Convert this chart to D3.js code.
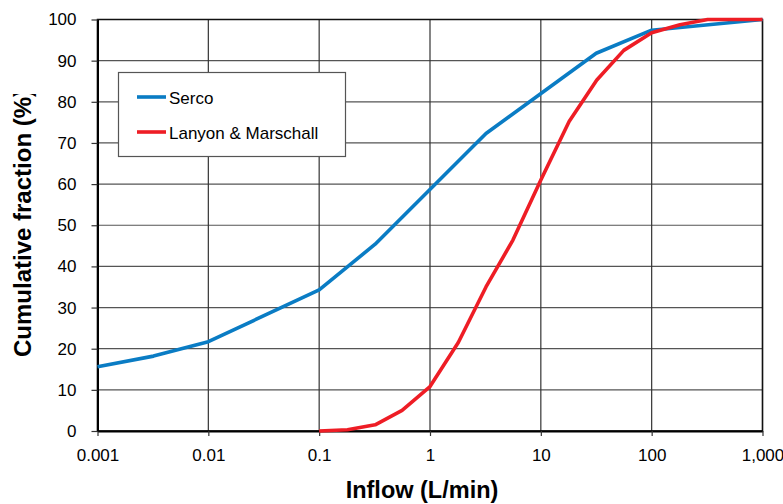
<!DOCTYPE html>
<html>
<head>
<meta charset="utf-8">
<script src="https://cdn.jsdelivr.net/npm/d3@7"></script>
<style>
  body { margin: 0; background: #fff; }
  svg { display: block; font-family: "Liberation Sans", Arial, sans-serif; }
</style>
</head>
<body>
<svg id="chart" width="783" height="504"></svg>
<script>
// Serco inflow distribution (flow L/min, cumulative %)
var sercoFlow = [0.001, 0.0032, 0.01, 0.1, 0.32, 3.2, 31.6, 100, 1000];
var sercoCum  = [15.6, 18.2, 21.7, 34.3, 45.4, 72.3, 91.8, 97.4, 100];

// Lanyon & Marschall inflow distribution
var lanyonFlow = [0.1, 0.18, 0.32, 0.56, 1, 1.8, 3.2, 5.6, 10, 18, 32, 56, 100, 180, 320, 1000];
var lanyonCum  = [0, 0.3, 1.5, 5, 10.8, 21.5, 35, 46.4, 61, 75.2, 85.3, 92.5, 96.8, 98.7, 100, 100];

var xTicks = [0.001, 0.01, 0.1, 1, 10, 100, 1000];
var xTickLabels = ["0.001", "0.01", "0.1", "1", "10", "100", "1,000"];
var yTicks = [0, 10, 20, 30, 40, 50, 60, 70, 80, 90, 100];

var seriesNames = ["Serco", "Lanyon & Marschall"];
var seriesColors = ["#0a7cc4", "#ee1d25"];

var svg = d3.select("#chart");
var margin = {left: 97.5, top: 19.5, right: 20.5, bottom: 73};
var W = 783, H = 504;

var x = d3.scaleLog().domain([0.001, 1000]).range([margin.left, W - margin.right]);
var y = d3.scaleLinear().domain([0, 100]).range([H - margin.bottom, margin.top]);

// gridlines
svg.append("g").selectAll("line").data(yTicks).enter().append("line")
    .attr("x1", x(0.001)).attr("x2", x(1000))
    .attr("y1", function(d) { return y(d); }).attr("y2", function(d) { return y(d); })
    .attr("stroke", "#555").attr("stroke-width", 1.2);
svg.append("g").selectAll("line").data(xTicks).enter().append("line")
    .attr("y1", y(0)).attr("y2", y(100))
    .attr("x1", function(d) { return x(d); }).attr("x2", function(d) { return x(d); })
    .attr("stroke", "#333").attr("stroke-width", 1.2);

// plot frame
svg.append("rect")
    .attr("x", x(0.001)).attr("y", y(100))
    .attr("width", x(1000) - x(0.001)).attr("height", y(0) - y(100))
    .attr("fill", "none").attr("stroke", "#111").attr("stroke-width", 1.5);

// axes
var xAxis = d3.axisBottom(x).tickValues(xTicks)
    .tickFormat(function(d, i) { return xTickLabels[i]; })
    .tickSizeInner(5).tickSizeOuter(0).tickPadding(13);
var gx = svg.append("g").attr("transform", "translate(0," + y(0) + ")").call(xAxis);

var yAxis = d3.axisLeft(y).tickValues(yTicks)
    .tickSizeInner(6).tickSizeOuter(0).tickPadding(15);
var gy = svg.append("g").attr("transform", "translate(" + x(0.001) + ",0)").call(yAxis);

[gx, gy].forEach(function(g) {
    g.select(".domain").attr("stroke", "#000").attr("stroke-width", 2);
    g.selectAll(".tick line").attr("stroke", "#333").attr("stroke-width", 1.2);
    g.selectAll(".tick text").attr("font-size", 17).attr("fill", "#000")
        .attr("font-family", "Liberation Sans, Arial, sans-serif");
});

// lines
var line = d3.line()
    .x(function(d) { return x(d[0]); })
    .y(function(d) { return y(d[1]); });

var series = [
    d3.zip(sercoFlow, sercoCum),
    d3.zip(lanyonFlow, lanyonCum)
];

series.forEach(function(s, i) {
    svg.append("path").datum(s)
        .attr("d", line)
        .attr("fill", "none")
        .attr("stroke", seriesColors[i])
        .attr("stroke-width", 3.6)
        .attr("stroke-linejoin", "round");
});

// legend
var lg = svg.append("g");
lg.append("rect")
    .attr("x", 118.5).attr("y", 72.5).attr("width", 227).attr("height", 84)
    .attr("fill", "#fff").attr("stroke", "#555").attr("stroke-width", 1.2);
seriesNames.forEach(function(name, i) {
    var ly = 97 + i * 35;
    lg.append("line")
        .attr("x1", 137).attr("x2", 166).attr("y1", ly).attr("y2", ly)
        .attr("stroke", seriesColors[i]).attr("stroke-width", 3.6);
    lg.append("text")
        .attr("x", 169).attr("y", ly + 6.5)
        .attr("font-size", 17).attr("fill", "#000")
        .text(name);
});

// axis titles
svg.append("text")
    .attr("x", 422).attr("y", 498)
    .attr("text-anchor", "middle")
    .attr("font-size", 23.5).attr("font-weight", "bold")
    .text("Inflow (L/min)");

// the y title is cut off at the top in the original
svg.append("clipPath").attr("id", "ylabclip")
    .append("rect").attr("x", 0).attr("y", 94).attr("width", 60).attr("height", 400);
svg.append("g").attr("clip-path", "url(#ylabclip)")
    .append("text")
    .attr("transform", "translate(31,357) rotate(-90)")
    .attr("text-anchor", "start")
    .attr("font-size", 24).attr("font-weight", "bold")
    .text("Cumulative fraction (%)");
</script>
</body>
</html>
